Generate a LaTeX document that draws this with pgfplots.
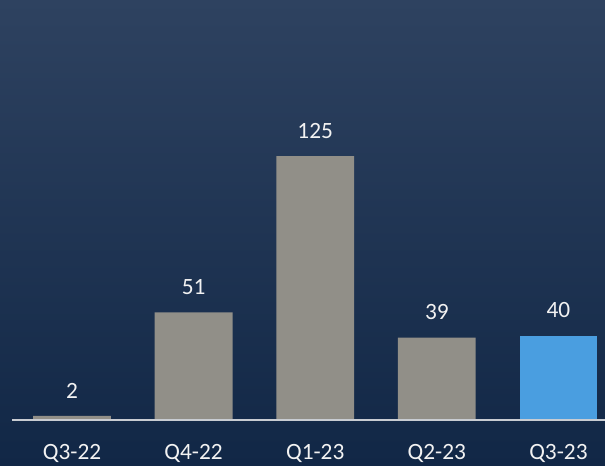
\documentclass[border=0pt]{standalone}
\usepackage{pgfplots}
\pgfplotsset{compat=1.18}
\usepackage{fontspec}
\setmainfont{Carlito}
\definecolor{bgtop}{RGB}{46,66,96}
\definecolor{bgbot}{RGB}{17,39,70}
\definecolor{bargray}{RGB}{145,143,136}
\definecolor{barblue}{RGB}{74,158,224}
\definecolor{baseclr}{RGB}{200,204,210}
\definecolor{txt}{RGB}{242,242,242}
\begin{document}
\begin{tikzpicture}
\shade[top color=bgtop, bottom color=bgbot] (0,0) rectangle (453.75pt,349.5pt);
\begin{axis}[
  at={(0pt,34.5pt)}, anchor=south west,
  scale only axis, width=453.75pt, height=315pt,
  xmin=-0.592, xmax=4.383, ymin=0, ymax=198.9,
  clip=false,
  axis line style={draw=none},
  ybar, bar shift=0pt, bar width=0.64,
  xtick={0,1,2,3,4},
  xticklabels={Q3-22,Q4-22,Q1-23,Q2-23,Q3-23},
  ytick=\empty,
  major tick length=0pt,
  xtick style={draw=none},
  xticklabel style={anchor=north, inner sep=0pt, yshift=-18pt, text=txt, font=\fontsize{17.5}{20}\selectfont},
  nodes near coords,
  every node near coord/.append style={anchor=south, inner sep=0pt, yshift=13pt, text=txt, font=\fontsize{17.5}{20}\selectfont},
  /pgf/number format/assume math mode=true,
]
\addplot[fill=bargray, draw=none] coordinates {(0,2) (1,51) (2,125) (3,39)};
\addplot[fill=barblue, draw=none] coordinates {(4,40)};
\draw[draw=baseclr, line width=1.1pt] (axis cs:-0.493,0) -- (axis cs:4.383,0);
\end{axis}
\pgfresetboundingbox
\path[use as bounding box] (0,0) rectangle (453.75pt,349.5pt);
\end{tikzpicture}
\end{document}
